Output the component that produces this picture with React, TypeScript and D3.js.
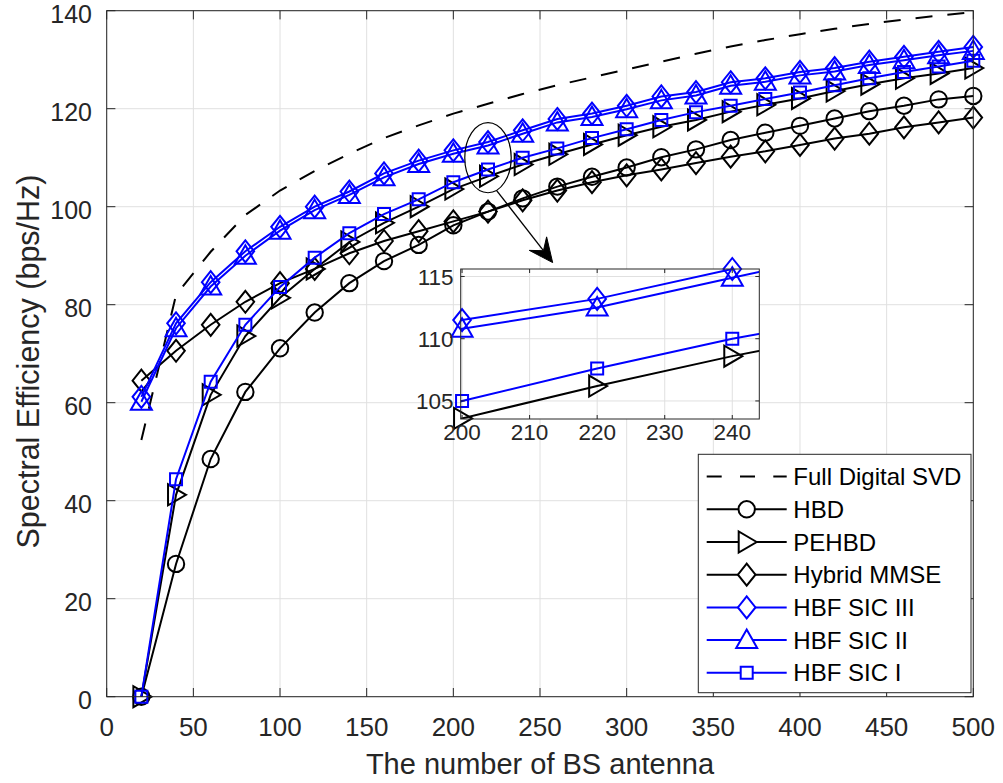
import React from 'react';
import * as d3 from 'd3';

// Number of BS antennas (x values of every curve)
const antennas = [20, 40, 60, 80, 100, 120, 140, 160, 180, 200, 220, 240, 260, 280, 300, 320, 340, 360, 380, 400, 420, 440, 460, 480, 500];

// Spectral efficiency (bps/Hz) per scheme
const fullDigitalSVD = [52.4, 82.0, 90.8, 98.3, 103.3, 107.3, 110.8, 114.0, 116.6, 119.0, 121.0, 123.0, 124.8, 126.4, 128.0, 129.6, 131.2, 132.7, 134.0, 135.2, 136.3, 137.3, 138.2, 139.0, 139.7];
const hbd = [0, 27.1, 48.5, 62.2, 71.1, 78.4, 84.4, 88.9, 92.2, 96.2, 99.0, 101.7, 104.1, 106.1, 108.0, 110.1, 111.7, 113.6, 115.1, 116.5, 118.0, 119.5, 120.6, 121.9, 122.6];
const pehbd = [0, 41.2, 61.6, 73.6, 81.4, 87.3, 92.8, 96.7, 100.0, 103.6, 106.2, 108.6, 110.7, 112.7, 114.6, 116.3, 117.7, 119.4, 120.8, 122.1, 123.6, 125.0, 126.2, 127.2, 128.3];
const hybridMMSE = [64.5, 70.6, 75.9, 80.6, 84.4, 87.3, 90.5, 93.0, 95.0, 97.0, 99.0, 101.3, 103.3, 105.0, 106.4, 107.6, 108.9, 110.2, 111.3, 112.6, 113.9, 114.9, 116.2, 117.2, 118.2];
const hbfSIC3 = [61.2, 76.2, 84.6, 90.9, 95.9, 100.0, 103.1, 106.8, 109.4, 111.5, 113.2, 115.6, 117.9, 119.0, 120.6, 122.5, 123.4, 125.4, 126.2, 127.5, 128.3, 129.6, 130.6, 131.6, 132.6];
const hbfSIC2 = [60.2, 75.2, 83.7, 90.0, 95.1, 99.3, 102.4, 106.0, 108.7, 110.8, 112.5, 114.9, 117.2, 118.3, 119.9, 121.7, 122.7, 124.7, 125.5, 126.8, 127.6, 128.9, 129.9, 130.9, 131.8];
const hbfSIC1 = [0, 44.4, 64.3, 75.9, 83.6, 89.6, 94.6, 98.5, 101.5, 105.0, 107.6, 110.0, 111.9, 114.0, 115.8, 117.7, 119.3, 120.6, 122.0, 123.3, 124.8, 126.2, 127.5, 128.6, 129.8];

const seriesNames = ['Full Digital SVD', 'HBD', 'PEHBD', 'Hybrid MMSE', 'HBF SIC III', 'HBF SIC II', 'HBF SIC I'];

// Axis ticks
const xTicks = [0, 50, 100, 150, 200, 250, 300, 350, 400, 450, 500];
const yTicks = [0, 20, 40, 60, 80, 100, 120, 140];
const insetXTicks = [200, 210, 220, 230, 240];
const insetYTicks = [105, 110, 115];

type Marker = 'none' | 'circle' | 'triRight' | 'diamond' | 'triUp' | 'square';
interface Series { name: string; values: number[]; color: string; marker: Marker; dashed?: boolean }

const BLUE = '#0000ff';
const BLACK = '#000000';
const AXIS = '#262626';
const GRID = '#e0e0e0';
const FONT = '"Liberation Sans", Arial, Helvetica, sans-serif';

const series: Series[] = [
  { name: seriesNames[0], values: fullDigitalSVD, color: BLACK, marker: 'none', dashed: true },
  { name: seriesNames[1], values: hbd, color: BLACK, marker: 'circle' },
  { name: seriesNames[2], values: pehbd, color: BLACK, marker: 'triRight' },
  { name: seriesNames[3], values: hybridMMSE, color: BLACK, marker: 'diamond' },
  { name: seriesNames[4], values: hbfSIC3, color: BLUE, marker: 'diamond' },
  { name: seriesNames[5], values: hbfSIC2, color: BLUE, marker: 'triUp' },
  { name: seriesNames[6], values: hbfSIC1, color: BLUE, marker: 'square' },
];

function markerPath(m: Marker): string {
  switch (m) {
    case 'circle': {
      const r = 8.2;
      return `M${-r},0A${r},${r} 0 1,0 ${r},0A${r},${r} 0 1,0 ${-r},0Z`;
    }
    case 'triRight': return 'M10,0L-8,-10.5L-8,10.5Z';
    case 'triUp': return 'M0,-10.5L10.5,8L-10.5,8Z';
    case 'diamond': return 'M0,-11L8.8,0L0,11L-8.8,0Z';
    case 'square': return 'M-6,-6H6V6H-6Z';
    default: return '';
  }
}

const DASH = '17,15';

function Curves({ x, y, clipId, domainX }: { x: d3.ScaleLinear<number, number>; y: d3.ScaleLinear<number, number>; clipId?: string; domainX: [number, number] }) {
  const [ylo, yhi] = y.domain();
  return (
    <g>
      {series.map((s) => {
        const line = d3.line<number>().x((_, i) => x(antennas[i])).y((v) => y(v));
        return (
          <g key={s.name}>
            <path d={line(s.values) || ''} fill="none" stroke={s.color} strokeWidth={2}
              strokeDasharray={s.dashed ? DASH : undefined} clipPath={clipId ? `url(#${clipId})` : undefined} />
            {s.marker !== 'none' && s.values.map((v, i) => {
              const a = antennas[i];
              if (a < domainX[0] || a > domainX[1] || v < ylo - 0.5 || v > yhi + 0.5) return null;
              return <path key={i} d={markerPath(s.marker)} transform={`translate(${x(a)},${y(v)})`}
                fill="none" stroke={s.color} strokeWidth={2} />;
            })}
          </g>
        );
      })}
    </g>
  );
}

export default function App() {
  const W = 1003, H = 783;
  const x = d3.scaleLinear().domain([0, 500]).range([106.7, 973.3]);
  const y = d3.scaleLinear().domain([0, 140]).range([696.7, 10.7]);
  const [x0, x1] = x.range();
  const [y0, y1] = y.range();
  const tick = 8.7;

  // Zoomed inset axes
  const ix = d3.scaleLinear().domain([199.8, 244]).range([460.7, 759.3]);
  const iy = d3.scaleLinear().domain([103.55, 115.6]).range([419, 269]);
  const [ix0, ix1] = ix.range();
  const [iy0, iy1] = iy.range();
  const itick = 4;

  // Callout ellipse and arrow (data coordinates)
  const ecx = x(220), ecy = y(110);
  const erx = x(13.4) - x(0), ery = y(0) - y(7.15);
  const ax0 = x(225), ay0 = y(103.3);
  const ax1 = x(257.3), ay1 = y(88.6);
  const dx = ax1 - ax0, dy = ay1 - ay0;
  const len = Math.hypot(dx, dy);
  const ux = dx / len, uy = dy / len;
  const nx = -uy, ny = ux;
  const HL = 24, HW = 11, NOTCH = 15;
  const head = `M${ax1},${ay1}L${ax1 - ux * HL + nx * HW},${ay1 - uy * HL + ny * HW}L${ax1 - ux * NOTCH},${ay1 - uy * NOTCH}L${ax1 - ux * HL - nx * HW},${ay1 - uy * HL - ny * HW}Z`;

  // Legend layout
  const lgX = 698.3, lgY = 454.3, lgW = 272.7, lgH = 238.4;
  const rowY0 = 476.6, rowStep = 32.7;

  return (
    <svg width={W} height={H} style={{ position: 'absolute', left: 0, top: 0, background: '#fff' }} fontFamily={FONT}>
      <defs>
        <clipPath id="insetClip"><rect x={ix0} y={iy1} width={ix1 - ix0} height={iy0 - iy1} /></clipPath>
      </defs>
      <rect x={0} y={0} width={W} height={H} fill="#fff" />

      {/* grid */}
      {xTicks.map((t) => <line key={'gx' + t} x1={x(t)} x2={x(t)} y1={y0} y2={y1} stroke={GRID} strokeWidth={1} />)}
      {yTicks.map((t) => <line key={'gy' + t} x1={x0} x2={x1} y1={y(t)} y2={y(t)} stroke={GRID} strokeWidth={1} />)}

      <Curves x={x} y={y} domainX={[0, 500]} />

      {/* axes box and ticks */}
      <rect x={x0} y={y1} width={x1 - x0} height={y0 - y1} fill="none" stroke={AXIS} strokeWidth={1} />
      {xTicks.map((t) => (
        <g key={'xt' + t}>
          <line x1={x(t)} x2={x(t)} y1={y0} y2={y0 - tick} stroke={AXIS} />
          <line x1={x(t)} x2={x(t)} y1={y1} y2={y1 + tick} stroke={AXIS} />
          <text x={x(t)} y={736} textAnchor="middle" fontSize={26} fill={AXIS}>{t}</text>
        </g>
      ))}
      {yTicks.map((t) => (
        <g key={'yt' + t}>
          <line x1={x0} x2={x0 + tick} y1={y(t)} y2={y(t)} stroke={AXIS} />
          <line x1={x1} x2={x1 - tick} y1={y(t)} y2={y(t)} stroke={AXIS} />
          <text x={92} y={y(t) + 12} textAnchor="end" fontSize={25} fill={AXIS}>{t}</text>
        </g>
      ))}
      <text x={(x0 + x1) / 2} y={774} textAnchor="middle" fontSize={29} fill={AXIS}>The number of BS antenna</text>
      <text transform={`translate(38.5,361.5) rotate(-90)`} textAnchor="middle" fontSize={30.5} fill={AXIS}>Spectral Efficiency (bps/Hz)</text>

      {/* callout */}
      <ellipse cx={ecx} cy={ecy} rx={erx} ry={ery} fill="none" stroke={BLACK} strokeWidth={1.2} />
      <line x1={ax0} y1={ay0} x2={ax1 - ux * NOTCH} y2={ay1 - uy * NOTCH} stroke={BLACK} strokeWidth={1.3} />
      <path d={head} fill={BLACK} stroke={BLACK} strokeWidth={1} />

      {/* inset */}
      <rect x={ix0} y={iy1} width={ix1 - ix0} height={iy0 - iy1} fill="#fff" />
      {insetXTicks.map((t) => <line key={'igx' + t} x1={ix(t)} x2={ix(t)} y1={iy0} y2={iy1} stroke={GRID} />)}
      {insetYTicks.map((t) => <line key={'igy' + t} x1={ix0} x2={ix1} y1={iy(t)} y2={iy(t)} stroke={GRID} />)}
      <Curves x={ix} y={iy} clipId="insetClip" domainX={[199.8, 244]} />
      <rect x={ix0} y={iy1} width={ix1 - ix0} height={iy0 - iy1} fill="none" stroke={AXIS} strokeWidth={1} />
      {insetXTicks.map((t) => (
        <g key={'ixt' + t}>
          <line x1={ix(t)} x2={ix(t)} y1={iy0} y2={iy0 - itick} stroke={AXIS} />
          <line x1={ix(t)} x2={ix(t)} y1={iy1} y2={iy1 + itick} stroke={AXIS} />
          <text x={ix(t)} y={440} textAnchor="middle" fontSize={22.5} fill={AXIS}>{t}</text>
        </g>
      ))}
      {insetYTicks.map((t) => (
        <g key={'iyt' + t}>
          <line x1={ix0} x2={ix0 + itick} y1={iy(t)} y2={iy(t)} stroke={AXIS} />
          <line x1={ix1} x2={ix1 - itick} y1={iy(t)} y2={iy(t)} stroke={AXIS} />
          <text x={453.5} y={iy(t)} dy="0.36em" textAnchor="end" fontSize={22.5} fill={AXIS}>{t}</text>
        </g>
      ))}

      {/* legend */}
      <rect x={lgX} y={lgY} width={lgW} height={lgH} fill="#fff" stroke={AXIS} strokeWidth={1} />
      {series.map((s, i) => {
        const ry = rowY0 + i * rowStep;
        return (
          <g key={'lg' + s.name}>
            <line x1={706.7} x2={786.7} y1={ry} y2={ry} stroke={s.color} strokeWidth={2} strokeDasharray={s.dashed ? '15,18.3' : undefined} />
            {s.marker !== 'none' && <path d={markerPath(s.marker)} transform={`translate(746.7,${ry})`} fill="#fff" stroke={s.color} strokeWidth={2} />}
            <text x={793.3} y={ry} dy="0.36em" fontSize={24} fill={BLACK}>{s.name}</text>
          </g>
        );
      })}
    </svg>
  );
}
